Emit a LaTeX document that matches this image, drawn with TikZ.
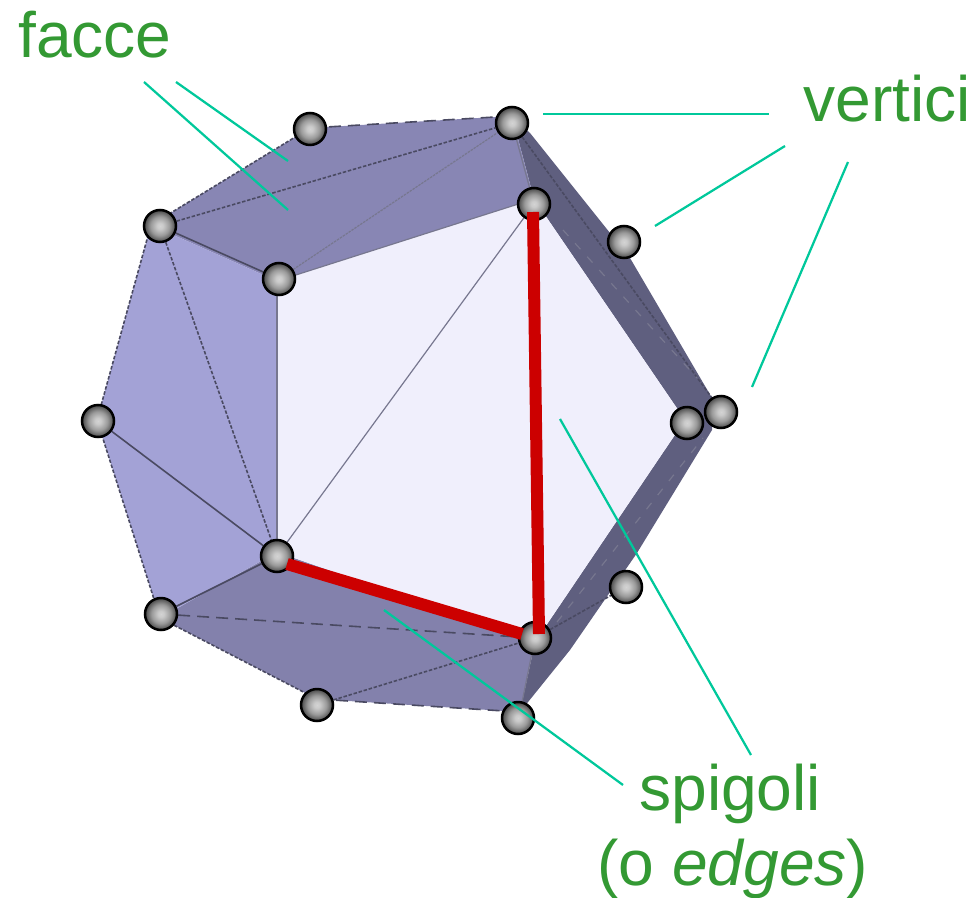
\documentclass[tikz,border=0pt]{standalone}
\usepackage{fontspec}
\setmainfont{Liberation Sans}
\usetikzlibrary{backgrounds}
\definecolor{cgreen}{HTML}{339933}
\definecolor{cleader}{HTML}{00C89B}
\definecolor{cred}{HTML}{CC0000}
\definecolor{cwire}{HTML}{4A4A62}
\definecolor{cpale}{HTML}{77778F}
\definecolor{cfront}{HTML}{F0EFFC}
\definecolor{cleft}{HTML}{A3A2D6}
\definecolor{ctop}{HTML}{8886B4}
\definecolor{cbottom}{HTML}{8381AC}
\definecolor{cright}{HTML}{5F5F7F}
\pgfdeclareradialshading{ballshade}{\pgfpoint{0bp}{0bp}}{color(0bp)=(black!17); color(5bp)=(black!21); color(15bp)=(black!40); color(25bp)=(black!72); color(50bp)=(black!72)}
\tikzset{
  every picture/.style={x=0.02cm, y=-0.02cm},
  ball/.style={circle, draw=black, line width=0.05cm, minimum size=0.64cm, inner sep=0pt, shading=ballshade},
  label/.style={text=cgreen, font=\fontsize{36.5}{42}\selectfont, inner sep=0pt, anchor=base west},
  leader/.style={draw=cleader, line width=0.045cm},
  edgeline/.style={draw=cred, line width=0.24cm},
  wire/.style={draw=cwire, line width=0.032cm},
  thin wire/.style={draw=cpale, line width=0.024cm},
  longdash/.style={wire, dash pattern=on 0.24cm off 0.14cm},
  shortdash/.style={wire, dash pattern=on 0.07cm off 0.035cm},
  lightdash/.style={draw=cpale, line width=0.024cm, dash pattern=on 0.16cm off 0.2cm},
}
\begin{document}
\begin{tikzpicture}
  \useasboundingbox (0,0) rectangle (976,898);
  % vertices
  \foreach \n/\x/\y in {va/310/129, vb/512/123, vc/534/204, vd/624/242, ve/721/412, vf/687/423, vg/626/587, vh/535/638, vi/518/718, vj/317/705, vk/161/614, vl/277/556, vm/98/421, vn/160/226, vo/279/279} {
    \node[ball] (\n) at (\x,\y) {};
  }
  % corners of the solid
  \foreach \n/\x/\y in {pa/310/128, pb/512/116, pt/530/133, pu/630/258, pe/712/398, pq/712/430, pv/637/553, pw/570/650, pi/520/712, pj/317/699, pk/160/618, pm/97/420, pn/151/225, pc/534/199, pf/685/420, ph/535/642, pl/277/552, po/277/281} {
    \coordinate (\n) at (\x,\y);
  }
  \coordinate (qa) at (563,230);
  \coordinate (qb) at (697,378);
  \coordinate (qc) at (557,622);
  \coordinate (qd) at (703,438);
  \begin{scope}[on background layer]
    \fill[cright] (pb) -- (pt) -- (pu) -- (pe) -- (pq) -- (pv) -- (pw) -- (pi) -- (ph) -- (pf) -- (pc) -- cycle;
    \fill[ctop] (pn) -- (pa) -- (pb) -- (pc) -- (po) -- cycle;
    \fill[cbottom] (pk) -- (pl) -- (ph) -- (pi) -- (pj) -- cycle;
    \fill[cleft] (pn) -- (po) -- (pl) -- (pk) -- (pm) -- cycle;
    \fill[cfront] (po) -- (pc) -- (pf) -- (ph) -- (pl) -- cycle;
    % outline
    \draw[shortdash] (pn) -- (pa);
    \draw[longdash] (pa) -- (pb);
    \draw[shortdash] (vb) -- (pe);
    \draw[longdash] (pj) -- (pi);
    \draw[shortdash] (pk) -- (pj);
    \draw[shortdash] (pk) -- (pm);
    \draw[shortdash] (pm) -- (pn);
    % inner lines
    \draw[shortdash] (vn) -- (vb);
    \draw[thin wire, dash pattern=on 0.05cm off 0.02cm] (vo) -- (vb);
    \draw[wire] (vn) -- (vo);
    \draw[thin wire] (vc) -- (vl);
    \draw[shortdash] (vn) -- (vl);
    \draw[wire] (vm) -- (vl);
    \draw[wire] (vl) -- (vk);
    \draw[thin wire, line width=0.036cm] (po) -- (pl);
    \draw[longdash] (vk) -- (vh);
    \draw[shortdash] (vj) -- (vh);
    \draw[thin wire] (vh) -- (pi);
    \draw[thin wire] (po) -- (pc);
    \draw[thin wire] (vb) -- (vc);
    \draw[lightdash] (qa) -- (qb);
    \draw[lightdash] (qc) -- (qd);
    \draw[shortdash] (vh) -- (vg);
  \end{scope}
  % spigoli in rosso
  \coordinate (ra) at (533,212);
  \coordinate (rb) at (539,634);
  \coordinate (rc) at (287,564);
  \coordinate (rd) at (522,634);
  \draw[edgeline] (rc) -- (rd);
  \draw[edgeline] (ra) -- (rb);
  % labels
  \node[label] (facce) at (18,58) {facce};
  \node[label] (vertici) at (803,122) {vertici};
  \node[label] (spigoli) at (639,810) {spigoli};
  \node[label] (edges) at (597,885) {(o \textit{edges})};
  % leaders
  \foreach \n/\x/\y in {la/144/82, lb/288/210, lc/176/82, ld/288/161, le/543/114, lf/769/114, lg/785/146, lh/655/226, li/848/162, lj/752/387, lk/560/419, ll/751/755, lm/384/610, ln/623/785} {
    \coordinate (\n) at (\x,\y);
  }
  \foreach \s/\t in {la/lb, lc/ld, le/lf, lg/lh, li/lj, lk/ll, lm/ln} {
    \draw[leader] (\s) -- (\t);
  }
\end{tikzpicture}
\end{document}
